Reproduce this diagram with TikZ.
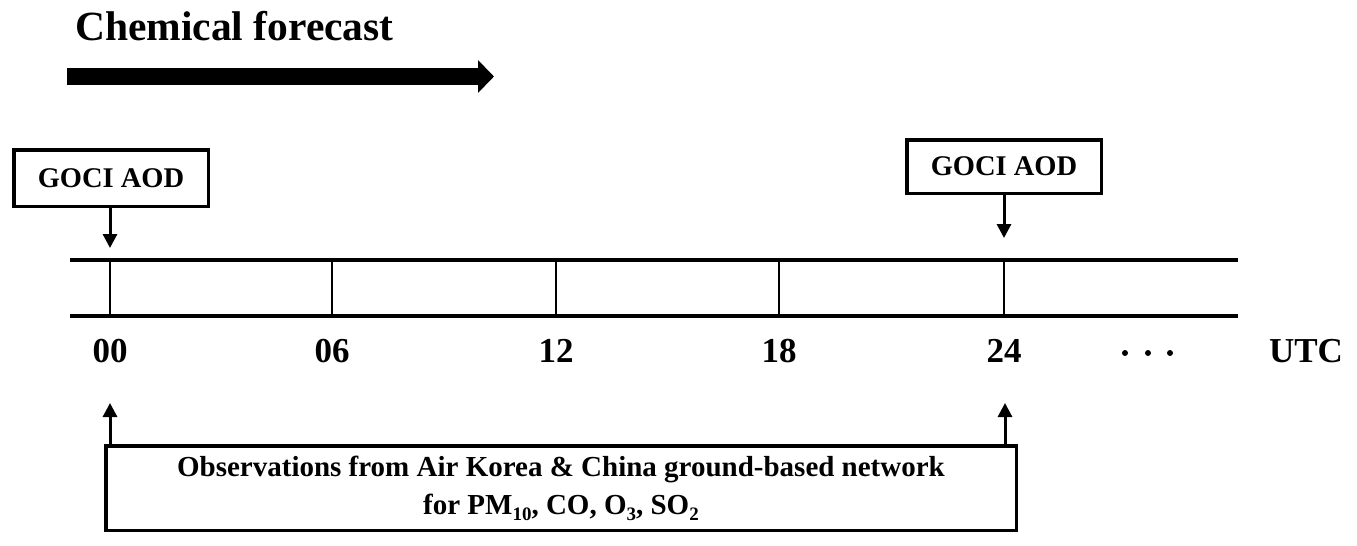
\documentclass[tikz,border=0pt]{standalone}
\usepackage{fontspec}
\setmainfont{Liberation Serif}
\usetikzlibrary{arrows.meta}
\newcommand{\lowsub}[1]{\raisebox{-0.45ex}{\fontsize{19}{20}\selectfont #1}}
\begin{document}
\begin{tikzpicture}[x=1pt,y=-1pt,
  lbl/.style={font=\fontsize{35}{40}\selectfont\bfseries, inner sep=0pt, anchor=base},
  gbox/.style={draw, line width=3.5pt, minimum width=194.5pt, font=\fontsize{28.5}{30}\selectfont\bfseries, inner sep=0pt},
  tl/.style={line width=4.5pt},
  tickline/.style={line width=2pt},
  arr/.style={line width=3pt, -{Triangle[length=14pt,width=14pt]}},
  dotmark/.style={fill=black},
]
\useasboundingbox (0,0) rectangle (1357,546);

% title and forecast arrow
\node[font=\fontsize{41.5}{44}\selectfont\bfseries, anchor=base west, inner sep=0pt] (cf) at (75,40) {Chemical forecast};
\coordinate (fa) at (67,76.5);
\coordinate (fb) at (494,76.5);
\draw[line width=17pt, -{Triangle[length=16pt,width=32pt]}] (fa) -- (fb);

% GOCI boxes
\node[gbox, minimum height=56.5pt] (g1) at (111,178) {GOCI AOD};
\node[gbox, minimum height=53.5pt] (g2) at (1004,166.5) {GOCI AOD};
\coordinate (t0) at (110,248);
\coordinate (t24) at (1004,238);
\draw[arr] (g1.south -| t0) -- (t0);
\draw[arr] (g2.south -| t24) -- (t24);

% timeline
\draw[tl] (70,260) -- (1238,260);
\draw[tl] (70,316) -- (1238,316);
\foreach \x in {110,332,556,779,1004} {
  \draw[tickline] (\x,262) -- (\x,314);
}

% labels
\node[lbl] (l00) at (110,362) {00};
\node[lbl] (l06) at (332,362) {06};
\node[lbl] (l12) at (556,362) {12};
\node[lbl] (l18) at (779,362) {18};
\node[lbl] (l24) at (1004,362) {24};
\node[lbl] (utc) at (1306,362) {UTC};
\fill[dotmark] (1125,353) circle (3pt);
\fill[dotmark] (1148,353) circle (3pt);
\fill[dotmark] (1170,353) circle (3pt);

% observations box
\node[draw, line width=3.5pt, minimum width=910.5pt, minimum height=84.5pt, inner sep=0pt,
      font=\fontsize{29}{38}\selectfont\bfseries, align=center] (obs) at (561,488)
  {Observations from Air Korea \& China ground-based network\\
   for PM\lowsub{10}, CO, O\lowsub{3}, SO\lowsub{2}};
\coordinate (o0) at (110,403);
\coordinate (o24) at (1005,403);
\draw[arr] (obs.north -| o0) -- (o0);
\draw[arr] (obs.north -| o24) -- (o24);
\end{tikzpicture}
\end{document}
